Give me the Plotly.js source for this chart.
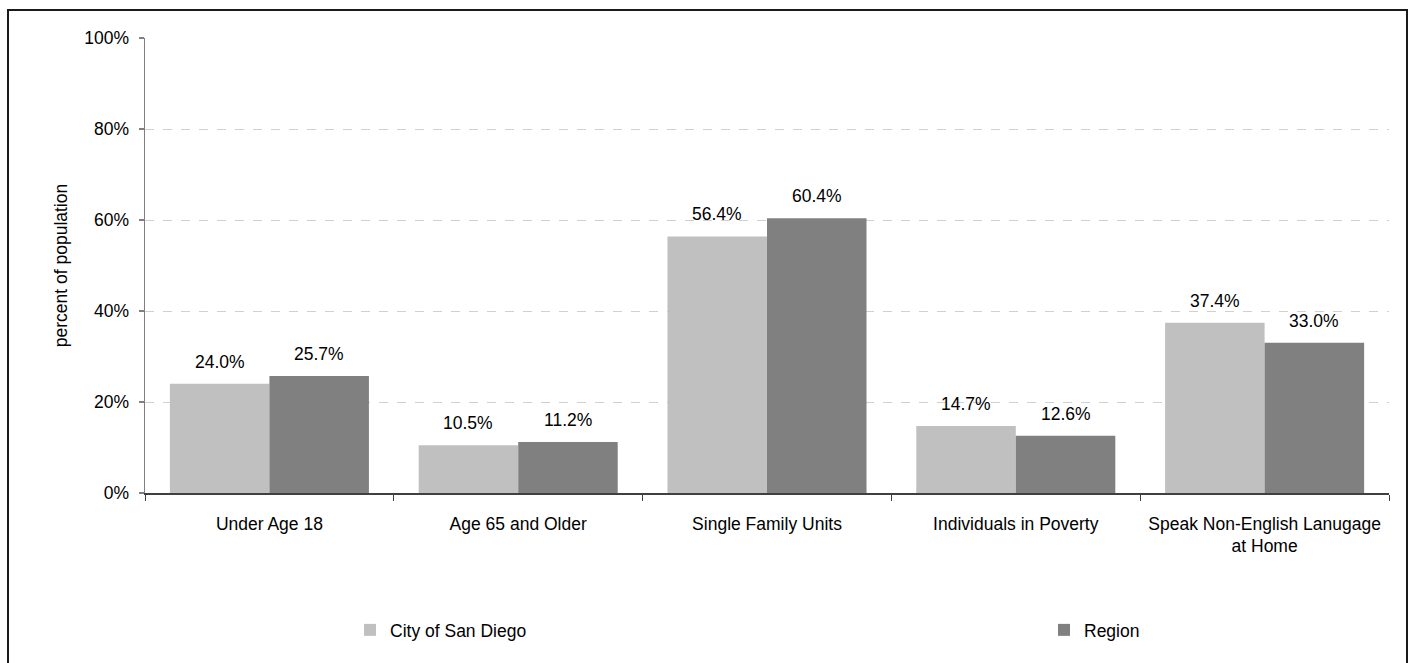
<!DOCTYPE html>
<html>
<head>
<meta charset="utf-8">
<script src="https://cdn.plot.ly/plotly-3.0.1.min.js"></script>
<style>html,body{margin:0;padding:0;background:#fff;}#chart{width:1413px;height:663px;}</style>
</head>
<body>
<div id="chart"></div>
<script>
// ---- data ----
var categories = ["Under Age 18", "Age 65 and Older", "Single Family Units", "Individuals in Poverty", "Speak Non-English Lanugage<br>at Home"];
var cityValues = [0.240, 0.105, 0.564, 0.147, 0.374];
var regionValues = [0.257, 0.112, 0.604, 0.126, 0.330];
var seriesNames = ["City of San Diego", "Region"];
var yTickValues = [0, 0.2, 0.4, 0.6, 0.8, 1.0];
var yTickLabels = ["0%", "20%", "40%", "60%", "80%", "100%"];
var yAxisTitle = "percent of population";
var chartTitle = "Demography";

// ---- layout geometry (pixels) ----
var W = 1413, H = 663;
var M = {l: 145, r: 24, t: 38, b: 170};
var plotW = W - M.l - M.r, plotH = H - M.t - M.b;
function px2x(px) { return (px - M.l) / plotW; }
function px2y(py) { return (H - M.b - py) / plotH; }

var FONT = "Liberation Sans, Arial, sans-serif";
var FS = 17.5;
var lightColor = "#c0c0c0", darkColor = "#808080";

var traces = [
  {type: "bar", name: seriesNames[0], x: categories, y: cityValues,
   marker: {color: lightColor}, legend: "legend", hoverinfo: "skip"},
  {type: "bar", name: seriesNames[1], x: categories, y: regionValues,
   marker: {color: darkColor}, legend: "legend2", hoverinfo: "skip"}
];

var annotations = [];
function fmt(v) { return (v * 100).toFixed(1) + "%"; }
var barPx = plotW / categories.length * 0.4;
categories.forEach(function (c, i) {
  annotations.push({x: c, y: cityValues[i], xref: "x", yref: "y", text: fmt(cityValues[i]),
    showarrow: false, xshift: -barPx / 2, yshift: 22, yanchor: "middle",
    font: {family: FONT, size: FS, color: "#000"}});
  annotations.push({x: c, y: regionValues[i], xref: "x", yref: "y", text: fmt(regionValues[i]),
    showarrow: false, xshift: barPx / 2, yshift: 22, yanchor: "middle",
    font: {family: FONT, size: FS, color: "#000"}});
});
annotations.push({xref: "paper", yref: "paper", x: px2x(458), y: px2y(2), xanchor: "left", yanchor: "bottom",
  text: "<b>" + chartTitle + "</b>", showarrow: false, font: {family: FONT, size: 16, color: "#000"}});

var layout = {
  width: W, height: H,
  margin: M,
  paper_bgcolor: "#fff", plot_bgcolor: "#fff",
  font: {family: FONT, size: FS, color: "#000"},
  barmode: "group", bargap: 0.2, bargroupgap: 0,
  showlegend: true,
  xaxis: {
    type: "category", tickson: "boundaries", ticks: "outside", ticklen: 6, tickwidth: 1,
    tickcolor: "#404040", showline: true, linecolor: "#404040", linewidth: 1.5,
    showgrid: false, zeroline: false, ticklabelstandoff: 14,
    tickfont: {family: FONT, size: FS, color: "#000"}, fixedrange: true
  },
  yaxis: {
    range: [0, 1], tickvals: yTickValues, ticktext: yTickLabels,
    ticks: "outside", ticklen: 5, tickcolor: "#808080", tickwidth: 1.5,
    showline: true, linecolor: "#808080", linewidth: 1.5,
    showgrid: true, gridcolor: "#d0d0d0", griddash: "dash", gridwidth: 1,
    zeroline: false, ticklabelstandoff: 6,
    tickfont: {family: FONT, size: FS, color: "#000"},
    title: {text: yAxisTitle, font: {family: FONT, size: FS, color: "#000"}, standoff: 12},
    fixedrange: true
  },
  legend: {orientation: "h", x: px2x(350), y: px2y(630), xanchor: "left", yanchor: "middle",
    font: {family: FONT, size: FS, color: "#000"}, bgcolor: "rgba(0,0,0,0)"},
  legend2: {orientation: "h", x: px2x(1044), y: px2y(630), xanchor: "left", yanchor: "middle",
    font: {family: FONT, size: FS, color: "#000"}, bgcolor: "rgba(0,0,0,0)"},
  annotations: annotations,
  shapes: [
    {type: "rect", xref: "paper", yref: "paper", x0: px2x(8), x1: px2x(1407), y0: px2y(680), y1: px2y(10),
     line: {color: "#1a1a1a", width: 2}, fillcolor: "rgba(0,0,0,0)", layer: "above"}
  ],
  hovermode: false
};

Plotly.newPlot("chart", traces, layout, {displayModeBar: false, staticPlot: true});
</script>
</body>
</html>
